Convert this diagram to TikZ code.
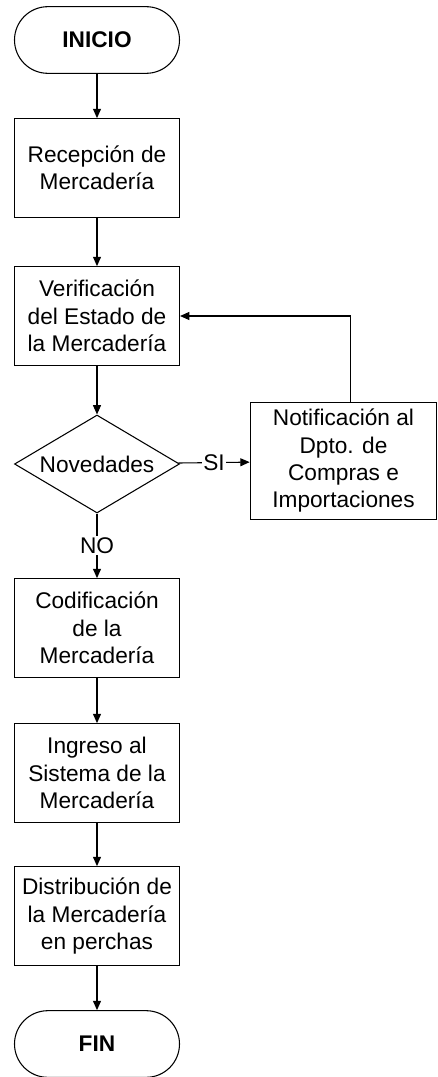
\documentclass[tikz,border=0pt]{standalone}
\usepackage{fontspec}
\setmainfont{Liberation Sans}
\usetikzlibrary{shapes.geometric,arrows.meta}
\begin{document}
\begin{tikzpicture}[x=0.75pt,y=-0.75pt,
  font=\fontsize{17}{20.5}\selectfont,
  proc/.style={rectangle,draw,thick,align=center,minimum width=123.75pt,minimum height=74pt,inner sep=2pt},
  term/.style={rectangle,draw,thick,rounded corners=25pt,minimum width=123.75pt,minimum height=50pt,font=\fontsize{17}{20.5}\selectfont\bfseries},
  decis/.style={diamond,draw,thick,aspect=1.68,inner sep=0pt,minimum width=123.75pt,minimum height=73.5pt},
  flow/.style={-{Triangle[length=7pt,width=6pt]},thick}]
\useasboundingbox (0,0) rectangle (438,1077);
\node (i) [term] at (97,40) {INICIO};
\node (r) [proc] at (97,168) {Recepción de\\Mercadería};
\node (v) [proc] at (97,316) {Verificación\\del Estado de\\la Mercadería};
\node (d) [decis] at (97,464) {Novedades};
\node (n) [proc,minimum width=140pt,minimum height=88pt] at (343.5,461) {Notificación al\\Dpto. de\\Compras e\\Importaciones};
\node (c) [proc] at (97,628) {Codificación\\de la\\Mercadería};
\node (s) [proc] at (97,773) {Ingreso al\\Sistema de la\\Mercadería};
\node (p) [proc] at (97,916) {Distribución de\\la Mercadería\\en perchas};
\node (f) [term] at (97,1044) {FIN};
\draw [flow] (i)--(r);
\draw [flow] (r)--(v);
\draw [flow] (v)--(d);
\draw [flow] (d)-- node[fill=white,inner sep=1pt]{SI} (n);
\draw [flow] ([xshift=5pt]n.north) |- (v.east);
\draw [flow] (d)-- node[fill=white,inner sep=1pt]{NO} (c);
\draw [flow] (c)--(s);
\draw [flow] (s)--(p);
\draw [flow] (p)--(f);
\end{tikzpicture}
\end{document}
